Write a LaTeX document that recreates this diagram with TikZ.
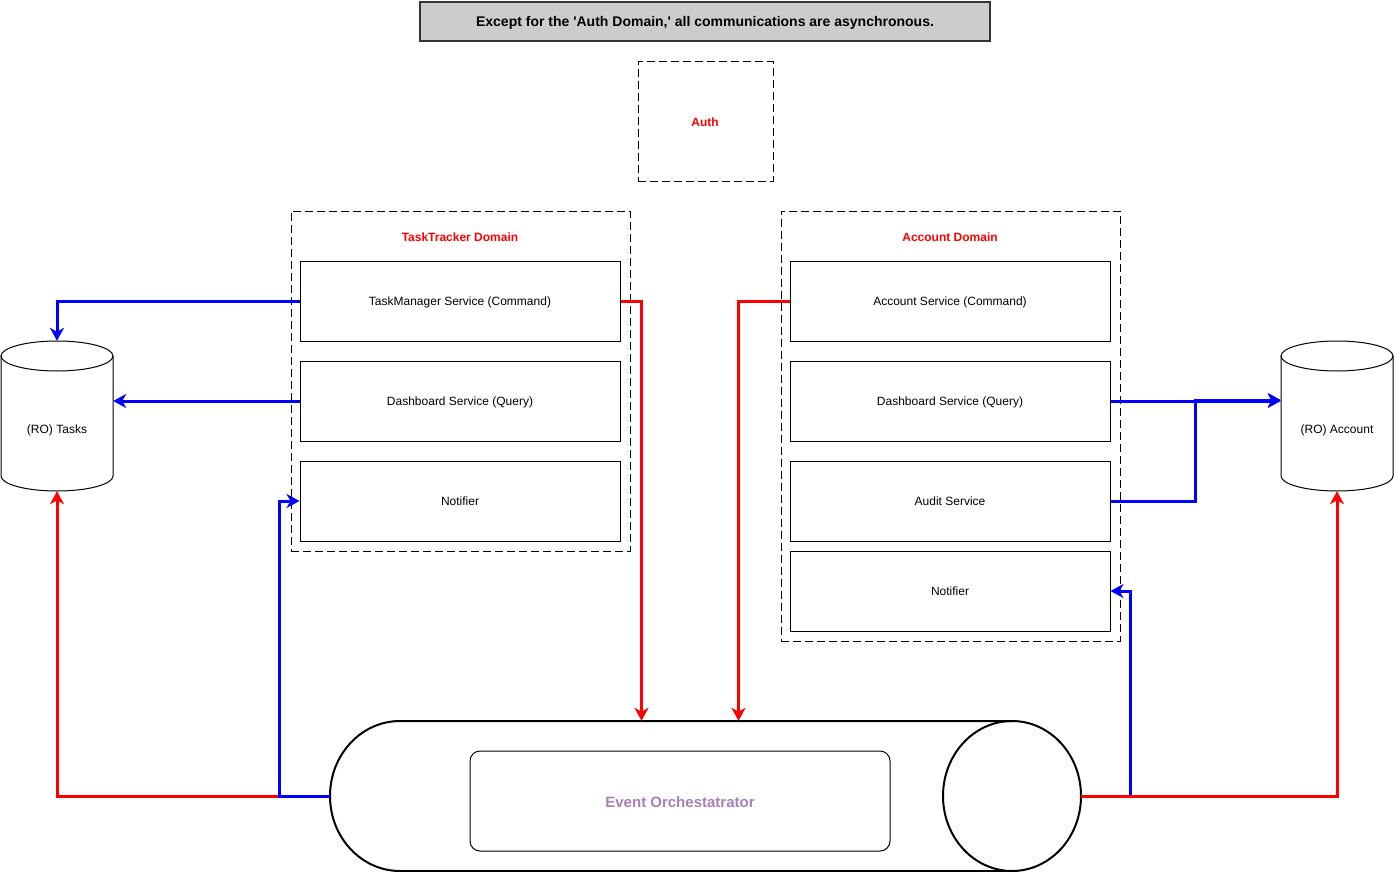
\documentclass[tikz,border=0pt]{standalone}
\usepackage{fontspec}
\setmainfont{Liberation Sans}[Ligatures=TeXOff]
\usetikzlibrary{arrows.meta,calc}
\definecolor{bluelink}{HTML}{0000FF}
\definecolor{redlink}{HTML}{FF0000}
\definecolor{titlegray}{HTML}{CCCCCC}
\definecolor{orchtext}{HTML}{A680B8}
\definecolor{bordergray}{HTML}{333333}

\tikzset{
  svc/.style={draw, line width=1pt, minimum width=320, minimum height=80,
    inner sep=0pt, font=\fontsize{12}{14}\selectfont, text depth=-1pt},
  domainbox/.style={draw, line width=1pt, dash pattern=on 8pt off 4pt,
    inner sep=0pt},
  domainlabel/.style={text=redlink, font=\fontsize{12}{14}\selectfont\bfseries,
    inner sep=0pt},
  plainlabel/.style={font=\fontsize{12}{14}\selectfont, inner sep=0pt},
  anchorbox/.style={minimum width=112, minimum height=150, inner sep=0pt},
  shapeline/.style={line width=1pt},
  bluelinkline/.style={draw=bluelink, line width=3pt,
    -{Stealth[length=13pt,width=14pt,inset=4pt]}},
  redlinkline/.style={draw=redlink, line width=3pt,
    -{Stealth[length=13pt,width=14pt,inset=4pt]}},
}

\begin{document}
\begin{tikzpicture}[x=1pt,y=-1pt]
\useasboundingbox (0,0) rectangle (1394,872);

% note at the top
\node[draw=bordergray, line width=2pt, fill=titlegray, minimum width=570,
  minimum height=39, inner sep=0pt] (note) at (705,21.5) {};
\node[font=\fontsize{14}{16}\selectfont\bfseries, inner sep=0pt] (notetext) at (705,22.5)
  {Except for the 'Auth Domain,' all communications are asynchronous.};

% auth
\node[domainbox, minimum width=135, minimum height=119] (auth) at (705.5,121.5) {};
\node[domainlabel] (authlabel) at (705,122) {Auth};

% task tracker domain
\node[domainbox, minimum width=339, minimum height=340] (ttdom) at (460.5,381) {};
\node[domainlabel] (ttlabel) at (460,237) {TaskTracker Domain};
\node[svc] (tm) at (460,301) {TaskManager Service (Command)};
\node[svc] (tdash) at (460,401) {Dashboard Service (Query)};
\node[svc] (tnote) at (460,501) {Notifier};

% account domain
\node[domainbox, minimum width=339, minimum height=430] (acdom) at (950.5,426) {};
\node[domainlabel] (aclabel) at (950,237) {Account Domain};
\node[svc] (as) at (950,301) {Account Service (Command)};
\node[svc] (adash) at (950,401) {Dashboard Service (Query)};
\node[svc] (audit) at (950,501) {Audit Service};
\node[svc] (anote) at (950,591) {Notifier};

% read-only stores
\node[anchorbox] (tasks) at (57,416) {};
\draw[shapeline] (57,356) ellipse[x radius=56, y radius=15];
\draw[shapeline] (1,356) -- (1,476) arc[start angle=180, end angle=0, x radius=56, y radius=15] -- (113,356);
\node[plainlabel] (taskstext) at (57,430) {(RO) Tasks};

\node[anchorbox] (acct) at (1337,416) {};
\draw[shapeline] (1337,356) ellipse[x radius=56, y radius=15];
\draw[shapeline] (1281,356) -- (1281,476) arc[start angle=180, end angle=0, x radius=56, y radius=15] -- (1393,356);
\node[plainlabel] (accttext) at (1337,430) {(RO) Account};

% event orchestrator (horizontal cylinder)
\node[minimum width=751, minimum height=150, inner sep=0pt] (orch) at (705.5,796) {};
\draw[line width=2pt] (1012,721) -- (400,721)
  arc[start angle=270, end angle=90, x radius=70, y radius=75] -- (1012,871);
\draw[line width=2pt] (1012,796) ellipse[x radius=69, y radius=75];
\node[draw, line width=1pt, rounded corners=10pt, minimum width=420, minimum height=100,
  inner sep=0pt] (orchbox) at (680,801) {};
\node[text=orchtext, font=\fontsize{15}{17}\selectfont\bfseries, inner sep=0pt]
  (orchlabel) at (680,802.5) {Event Orchestatrator};

% helper points
\coordinate (tmout) at ($(tm.east)+(21,0)$);
\coordinate (asout) at ($(as.west)+(-51,0)$);
\coordinate (tnin) at ($(tnote.west)+(-20,0)$);
\coordinate (anin) at ($(anote.east)+(20,0)$);
\coordinate (join) at ($(adash.east)+(85,-1)$);

% commands publish to the orchestrator
\draw[redlinkline] (tm.east) -- (tmout) -- (tmout |- orch.north);
\draw[redlinkline] (as.west) -- (asout) -- (asout |- orch.north);

% left side
\draw[redlinkline] (orch.west) -| (tasks.south);
\draw[bluelinkline] (orch.west) -| (tnin) -- (tnote.west);
\draw[bluelinkline] (tm.west) -| (tasks.north);
\draw[bluelinkline] (tdash.west) -- (tdash.west -| tasks.east);

% right side
\draw[bluelinkline] (orch.east) -| (anin) -- (anote.east);
\draw[redlinkline] (orch.east) -| (acct.south);
\draw[bluelinkline] (adash.east) -- (adash.east -| acct.west);
\draw[bluelinkline] (audit.east) -| (join) -- (join -| acct.west);
\end{tikzpicture}
\end{document}
